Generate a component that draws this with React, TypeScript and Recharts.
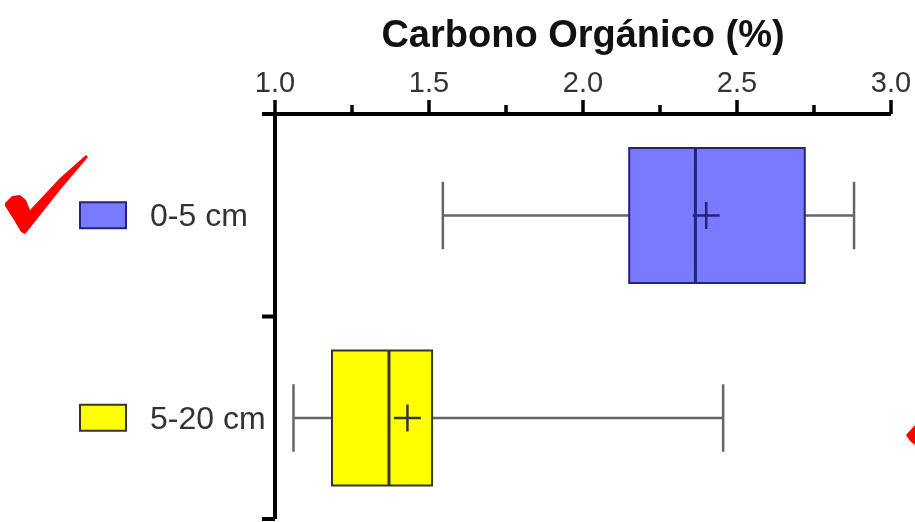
import React from 'react';
import { ComposedChart, Bar, XAxis, YAxis } from 'recharts';

// ---- data ----
const categories = ['0-5 cm', '5-20 cm'];
const minValues = [1.545, 1.06];
const q1Values = [2.15, 1.185];
const medianValues = [2.365, 1.37];
const q3Values = [2.72, 1.51];
const maxValues = [2.88, 2.455];
const meanValues = [2.4, 1.43];
const xTicks = [1.0, 1.25, 1.5, 1.75, 2.0, 2.25, 2.5, 2.75, 3.0];
const xMajorTicks = [1.0, 1.5, 2.0, 2.5, 3.0];
const yBoundaryTicks = [0, 0.5, 1];
const title = 'Carbono Orgánico (%)';

// ---- styles ----
const boxFills = ['#7a7aff', '#ffff00'];
const boxStrokes = ['#23237a', '#35352a'];
const whiskerColor = '#666666';
const FONT = '"Liberation Sans", Arial, Helvetica, sans-serif';

const data = categories.map((name, i) => ({
  name,
  range: [minValues[i], maxValues[i]],
  q1: q1Values[i],
  median: medianValues[i],
  q3: q3Values[i],
  mean: meanValues[i],
}));

const BoxShape = (props: any) => {
  const { x, y, width, height, payload, index } = props;
  const lo = payload.range[0];
  const hi = payload.range[1];
  const s = (v: number) => x + ((v - lo) / (hi - lo)) * width;
  const cy = y + height / 2;
  const capHalf = height / 4;
  const crossHalf = height * 0.1;
  const stroke = boxStrokes[index];
  const xq1 = s(payload.q1);
  const xq3 = s(payload.q3);
  const xmed = s(payload.median);
  const xmean = s(payload.mean);
  const xmin = s(lo);
  const xmax = s(hi);
  return (
    <g>
      <line x1={xmin} x2={xq1} y1={cy} y2={cy} stroke={whiskerColor} strokeWidth={2.5} />
      <line x1={xq3} x2={xmax} y1={cy} y2={cy} stroke={whiskerColor} strokeWidth={2.5} />
      <line x1={xmin} x2={xmin} y1={cy - capHalf} y2={cy + capHalf} stroke={whiskerColor} strokeWidth={2.5} />
      <line x1={xmax} x2={xmax} y1={cy - capHalf} y2={cy + capHalf} stroke={whiskerColor} strokeWidth={2.5} />
      <rect x={xq1} y={y} width={xq3 - xq1} height={height} fill={boxFills[index]} stroke={stroke} strokeWidth={2} />
      <line x1={xmed} x2={xmed} y1={y} y2={y + height} stroke={stroke} strokeWidth={3} />
      <line x1={xmean - crossHalf} x2={xmean + crossHalf} y1={cy} y2={cy} stroke={stroke} strokeWidth={2.5} />
      <line x1={xmean} x2={xmean} y1={cy - crossHalf} y2={cy + crossHalf} stroke={stroke} strokeWidth={2.5} />
    </g>
  );
};

const XTick = (props: any) => {
  const { x, y, payload } = props;
  const v = payload.value;
  const major = xMajorTicks.some((m) => Math.abs(m - v) < 1e-9);
  return (
    <g>
      <line x1={x} x2={x} y1={y} y2={y - (major ? 14 : 9)} stroke="#000" strokeWidth={3.5} />
      {major && (
        <text x={x} y={y - 22} textAnchor="middle" fontSize={29} fill="#333" fontFamily={FONT}>
          {Number(v).toFixed(1)}
        </text>
      )}
    </g>
  );
};

const CatTick = (props: any) => {
  const { x, y, payload, index } = props;
  return (
    <g>
      <rect x={x - 183} y={y - 13} width={46} height={26} fill={boxFills[index]} stroke={boxStrokes[index]} strokeWidth={2} />
      <text x={x - 113} y={y + 11} fontSize={32} fill="#333" fontFamily={FONT}>
        {payload.value}
      </text>
    </g>
  );
};

const BoundaryTick = (props: any) => {
  const { x, y } = props;
  return <line x1={x} x2={x - 13} y1={y} y2={y} stroke="#000" strokeWidth={4} />;
};

export default function App() {
  return (
    <div style={{ position: 'fixed', left: 8, top: 8, width: 907, height: 514 }}>
      <ComposedChart
        width={907}
        height={514}
        data={data}
        layout="vertical"
        margin={{ top: 0, right: 24, left: 0, bottom: 3 }}
      >
        <XAxis
          type="number"
          orientation="top"
          domain={[1, 3]}
          ticks={xTicks}
          interval={0}
          height={106}
          tickSize={0}
          tickMargin={0}
          tickLine={false}
          axisLine={{ stroke: '#000', strokeWidth: 4 }}
          tick={<XTick />}
          label={{
            value: title,
            position: 'insideTop',
            offset: 12,
            fontSize: 38,
            fontWeight: 'bold',
            fill: '#111',
            fontFamily: FONT,
          }}
        />
        <YAxis
          yAxisId="b_cat"
          type="category"
          dataKey="name"
          width={255}
          tickSize={0}
          tickMargin={0}
          axisLine={false}
          tickLine={false}
          interval={0}
          tick={<CatTick />}
        />
        <YAxis
          yAxisId="a_num"
          type="number"
          domain={[0, 1]}
          ticks={yBoundaryTicks}
          interval={0}
          allowDataOverflow
          width={12}
          tickSize={0}
          tickMargin={0}
          tick={<BoundaryTick />}
          tickLine={false}
          axisLine={{ stroke: '#000', strokeWidth: 4 }}
        />
        <Bar dataKey="range" yAxisId="b_cat" barSize={135} shape={<BoxShape />} isAnimationActive={false} />
      </ComposedChart>
      <svg
        width={907}
        height={514}
        style={{ position: 'absolute', left: 0, top: 0, pointerEvents: 'none', overflow: 'visible' }}
      >
        <polygon
          points="-3,195 4,188 12,187 18,192 22,202 52,170 78,147 80,149 52,182 22,220 17,226 13,224 6,212 -3,198"
          fill="#ff0000"
        />
        <polygon points="898,427 907,417 907,437 902,433" fill="#ff0000" />
      </svg>
    </div>
  );
}
